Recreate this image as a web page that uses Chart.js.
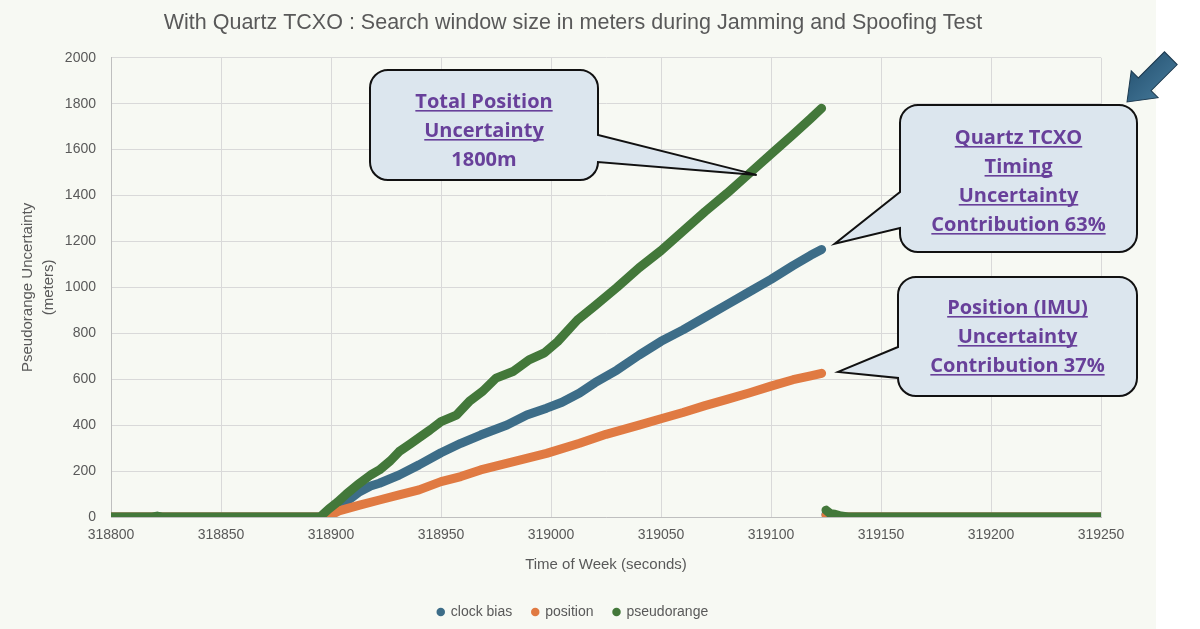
<!DOCTYPE html>
<html>
<head>
<meta charset="utf-8">
<script src="https://cdn.jsdelivr.net/npm/chart.js@4.4.0/dist/chart.umd.min.js"></script>
<style>
  html, body { margin: 0; padding: 0; background: #ffffff; }
  #wrap { width: 1200px; height: 629px; }
</style>
</head>
<body>
<div id="wrap"><canvas id="chart" width="1200" height="629"></canvas></div>
<script>
// valores (tiempo de semana en s, incertidumbre en m)
const clockT = [318800, 318820, 318896, 318900, 318907, 318913, 318918, 318922, 318931, 318940, 318950, 318959, 318968, 318980, 318989, 318998, 319005, 319013, 319020, 319030, 319040, 319050, 319060, 319070, 319080, 319090, 319100, 319110, 319118, 319123, 319124, 319125, 319127, 319130, 319134, 319250];
const clockV = [0, 0, 0, 23, 67, 110, 135, 147, 183, 227, 280, 321, 357, 401, 444, 474, 500, 540, 585, 640, 705, 765, 815, 870, 925, 980, 1035, 1095, 1140, 1165, null, 12, 6, 4, 0, 0];

const posT = [318800, 318898, 318900, 318904, 318913, 318922, 318931, 318940, 318950, 318959, 318968, 318983, 318998, 319013, 319025, 319040, 319050, 319060, 319070, 319080, 319090, 319100, 319110, 319118, 319123, 319124, 319125, 319127, 319130, 319134, 319250];
const posV = [0, 0, 9, 28, 52, 74, 96, 118, 154, 176, 205, 241, 277, 321, 360, 400, 428, 455, 485, 512, 540, 570, 598, 615, 626, null, 8, 4, 3, 0, 0];

const pseudoT = [318800, 318819, 318821, 318823, 318895, 318899, 318903, 318907, 318912, 318918, 318922, 318927, 318931, 318936, 318940, 318945, 318950, 318957, 318963, 318969, 318975, 318983, 318990, 318997, 319003, 319012, 319020, 319030, 319040, 319050, 319060, 319070, 319080, 319090, 319100, 319110, 319118, 319123, 319124, 319125, 319127, 319129, 319131, 319135, 319250];
const pseudoV = [0, 0, 4, 0, 0, 35, 65, 100, 140, 183, 205, 245, 285, 318, 345, 379, 415, 444, 505, 548, 605, 635, 684, 715, 764, 858, 920, 1000, 1085, 1160, 1245, 1330, 1410, 1495, 1580, 1665, 1735, 1780, null, 30, 14, 12, 6, 0, 0];

const seriesNames = ['clock bias', 'position', 'pseudorange'];
const seriesColors = ['#3d6d88', '#e07a42', '#43783a'];

const xTicks = [318800, 318850, 318900, 318950, 319000, 319050, 319100, 319150, 319200, 319250];
const yTicks = [0, 200, 400, 600, 800, 1000, 1200, 1400, 1600, 1800, 2000];

const titleText = 'With Quartz TCXO : Search window size in meters during Jamming and Spoofing Test';
const xTitle = 'Time of Week (seconds)';
const yTitle = ['Pseudorange Uncertainty', '(meters)'];

function toPoints(ts, vs) {
    return ts.map((t, i) => ({ x: t, y: vs[i] }));
}

const gray = '#595959';
const tickFont = { family: 'Liberation Sans', size: 14 };

// fondo del area del grafico
const backgroundPlugin = {
    id: 'fondo',
    beforeDraw(chart) {
        const ctx = chart.ctx;
        ctx.save();
        ctx.fillStyle = '#ffffff';
        ctx.fillRect(0, 0, chart.width, chart.height);
        ctx.fillStyle = '#f7f9f3';
        ctx.fillRect(0, 0, 1156, chart.height);
        ctx.restore();
    }
};

// globos de texto y flecha
function calloutPath(ctx, c) {
    const [x, y, w, h] = c.box;
    const r = 18;
    const [b1, b2] = c.base;
    const tip = c.tipPx;
    ctx.beginPath();
    ctx.moveTo(x + r, y);
    ctx.lineTo(x + w - r, y);
    ctx.arcTo(x + w, y, x + w, y + r, r);
    if (c.side === 'right') {
        ctx.lineTo(x + w, b1);
        ctx.lineTo(tip.x, tip.y);
        ctx.lineTo(x + w, b2);
    }
    ctx.lineTo(x + w, y + h - r);
    ctx.arcTo(x + w, y + h, x + w - r, y + h, r);
    ctx.lineTo(x + r, y + h);
    ctx.arcTo(x, y + h, x, y + h - r, r);
    if (c.side === 'left') {
        ctx.lineTo(x, b2);
        ctx.lineTo(tip.x, tip.y);
        ctx.lineTo(x, b1);
    }
    ctx.lineTo(x, y + r);
    ctx.arcTo(x, y, x + r, y, r);
    ctx.closePath();
}

const callouts = [
    { lines: ['Total Position', 'Uncertainty', '1800m'], underline: [true, true, false],
      box: [370, 70, 228, 110], side: 'right', base: [135, 162], tip: { t: 319093.5, v: 1490 }, first: 31 },
    { lines: ['Quartz TCXO', 'Timing', 'Uncertainty', 'Contribution 63%'], underline: [true, true, true, true],
      box: [900, 105, 237, 147], side: 'left', base: [192, 228], tip: { t: 319129, v: 1190 }, first: 32 },
    { lines: ['Position (IMU)', 'Uncertainty', 'Contribution 37%'], underline: [true, true, true],
      box: [898, 277, 239, 119], side: 'left', base: [347, 378], tip: { t: 319130.5, v: 632 }, first: 30 }
];

const calloutPlugin = {
    id: 'globos',
    afterDraw(chart) {
        const ctx = chart.ctx;
        const xs = chart.scales.x, ys = chart.scales.y;
        ctx.save();
        callouts.forEach(c => {
            c.tipPx = { x: xs.getPixelForValue(c.tip.t), y: ys.getPixelForValue(c.tip.v) };
            calloutPath(ctx, c);
            ctx.fillStyle = '#dce6ee';
            ctx.fill();
            ctx.lineWidth = 2;
            ctx.strokeStyle = '#111111';
            ctx.lineJoin = 'miter';
            ctx.stroke();

            const cx = c.box[0] + c.box[2] / 2;
            ctx.font = 'bold 20px "Open Sans"';
            ctx.fillStyle = '#68409a';
            ctx.textAlign = 'center';
            ctx.textBaseline = 'alphabetic';
            c.lines.forEach((line, i) => {
                const cy = c.box[1] + c.first + i * 29;
                ctx.fillText(line, cx, cy + 7);
                if (c.underline[i]) {
                    const w = ctx.measureText(line).width;
                    ctx.fillRect(cx - w / 2, cy + 9, w, 1.6);
                }
            });
        });

        // flecha superior derecha
        ctx.translate(1127, 102);
        ctx.rotate(-Math.PI / 4);
        ctx.beginPath();
        ctx.moveTo(0, 0);
        ctx.lineTo(25, -19);
        ctx.lineTo(25, -9);
        ctx.lineTo(62, -9);
        ctx.lineTo(62, 9);
        ctx.lineTo(25, 9);
        ctx.lineTo(25, 19);
        ctx.closePath();
        const grad = ctx.createLinearGradient(0, -19, 0, 19);
        grad.addColorStop(0, '#2a5877');
        grad.addColorStop(1, '#407393');
        ctx.fillStyle = grad;
        ctx.fill();
        ctx.lineWidth = 1;
        ctx.strokeStyle = '#1d3a50';
        ctx.stroke();
        ctx.restore();
    }
};

const datasets = [
    { label: seriesNames[0], data: toPoints(clockT, clockV), order: 2 },
    { label: seriesNames[1], data: toPoints(posT, posV), order: 1 },
    { label: seriesNames[2], data: toPoints(pseudoT, pseudoV), order: 0 }
].map((d, i) => Object.assign(d, {
    borderColor: seriesColors[i],
    backgroundColor: seriesColors[i],
    borderWidth: 9,
    borderCapStyle: 'round',
    borderJoinStyle: 'round',
    pointRadius: 0,
    pointStyle: 'circle',
    tension: 0,
    spanGaps: false
}));

new Chart(document.getElementById('chart'), {
    type: 'line',
    data: { datasets: datasets },
    options: {
        responsive: false,
        animation: false,
        devicePixelRatio: 1,
        layout: { padding: { left: 0, right: 54, top: 0, bottom: 0 } },
        plugins: {
            title: {
                display: true,
                text: titleText,
                color: gray,
                font: { family: 'Liberation Sans', size: 21.5, weight: 'normal' },
                padding: { top: 10, bottom: 22 }
            },
            legend: {
                position: 'bottom',
                labels: {
                    usePointStyle: true,
                    boxWidth: 6,
                    boxHeight: 6,
                    padding: 20,
                    color: gray,
                    font: { family: 'Liberation Sans', size: 14 },
                    sort: (a, b) => a.datasetIndex - b.datasetIndex,
                    generateLabels(chart) {
                        return Chart.defaults.plugins.legend.labels.generateLabels(chart)
                            .map(l => Object.assign(l, { lineWidth: 0 }));
                    }
                }
            },
            tooltip: { enabled: false }
        },
        scales: {
            x: {
                type: 'linear',
                min: xTicks[0],
                max: xTicks[xTicks.length - 1],
                afterBuildTicks(scale) { scale.ticks = xTicks.map(v => ({ value: v })); },
                ticks: { color: gray, font: tickFont, padding: 10, callback: v => String(v) },
                grid: { color: '#d9d9d9', drawTicks: false },
                border: { color: '#bfbfbf' },
                title: { display: true, text: xTitle, color: gray,
                         font: { family: 'Liberation Sans', size: 15 }, padding: { top: 0, bottom: 11 } },
                afterFit(scale) { scale.height = 68; }
            },
            y: {
                type: 'linear',
                position: 'left',
                min: yTicks[0],
                max: yTicks[yTicks.length - 1],
                afterBuildTicks(scale) { scale.ticks = yTicks.map(v => ({ value: v })); },
                ticks: { color: gray, font: tickFont, padding: 15, callback: v => String(v) },
                grid: { color: '#d9d9d9', drawTicks: false },
                border: { color: '#bfbfbf' },
                title: { display: true, text: yTitle, color: gray,
                         font: { family: 'Liberation Sans', size: 15, lineHeight: 1.4 }, padding: { top: 17, bottom: 0 } },
                afterFit(scale) { scale.width = 111; }
            },
            margenDerecho: {
                type: 'linear',
                position: 'right',
                display: true,
                ticks: { display: false },
                grid: { display: false },
                border: { display: false },
                afterFit(scale) { scale.width = 45; }
            }
        }
    },
    plugins: [backgroundPlugin, calloutPlugin]
});
</script>
</body>
</html>
